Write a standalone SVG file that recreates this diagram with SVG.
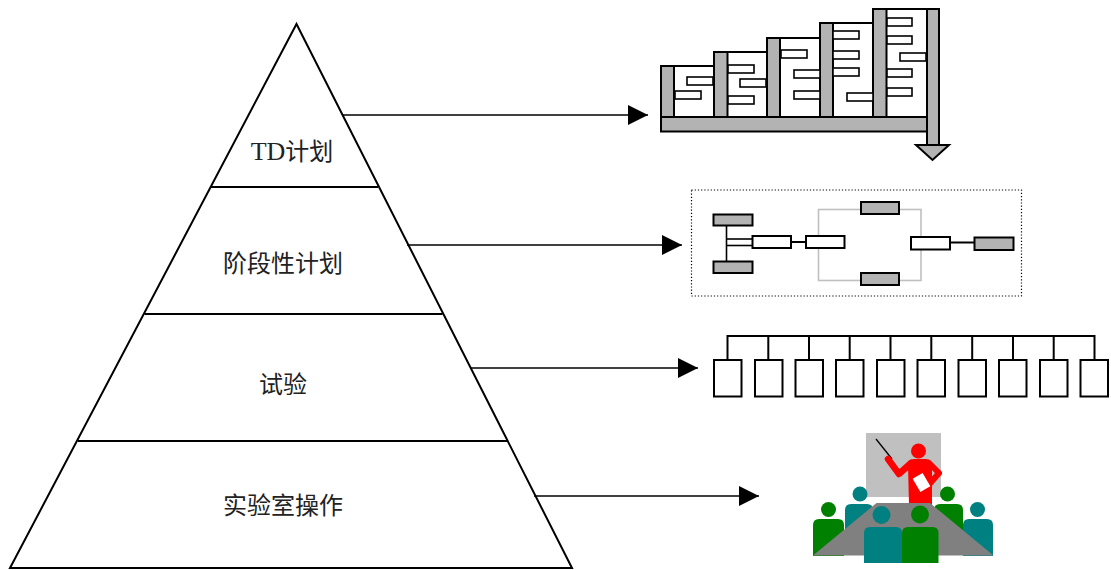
<svg xmlns="http://www.w3.org/2000/svg" width="1111" height="570" viewBox="0 0 1111 570">
  <style>
    .label { font-family: "Liberation Serif", "Noto Sans CJK SC", serif; font-size: 24px; fill: #222; text-anchor: middle; }
    .latin { font-size: 26px; }
    .edge { fill: none; stroke: #000; stroke-width: 2; }
    .conn { fill: none; stroke: #000; stroke-width: 1.6; }
    .gbar { fill: #b3b3b3; stroke: #000; stroke-width: 2; }
    .wcol { fill: #fff; stroke: #000; stroke-width: 2; }
    .task { fill: #fff; stroke: #000; stroke-width: 1.6; }
    .gbox { fill: #b3b3b3; stroke: #000; stroke-width: 2; }
    .wbox { fill: #fff; stroke: #000; stroke-width: 2; }
    .teal { fill: #008080; }
    .green { fill: #008000; }
  </style>
  <defs>
    <marker id="head" markerUnits="userSpaceOnUse" markerWidth="20" markerHeight="20" refX="20" refY="10" orient="auto">
      <path d="M0,0 L20,10 L0,20 Z" fill="#000"/>
    </marker>
  </defs>
  <rect width="1111" height="570" fill="#fff"/>

  <!-- pyramid -->
  <g id="pyramid">
    <path class="edge" d="M296.5,24 L572,568 L10,568 Z"/>
    <line class="edge" x1="211" y1="187" x2="378" y2="187"/>
    <line class="edge" x1="144.5" y1="314" x2="442.5" y2="314"/>
    <line class="edge" x1="78" y1="441" x2="507" y2="441"/>
  </g>
  <g id="layer-td"><text class="label" x="292" y="160"><tspan class="latin">TD</tspan>计划</text></g>
  <g id="layer-stage"><text class="label" x="283" y="272">阶段性计划</text></g>
  <g id="layer-test"><text class="label" x="283" y="393">试验</text></g>
  <g id="layer-lab"><text class="label" x="283" y="514">实验室操作</text></g>

  <!-- connectors -->
  <g id="connectors">
    <line class="conn" x1="343" y1="115" x2="648" y2="115" marker-end="url(#head)"/>
    <line class="conn" x1="407" y1="245" x2="682" y2="245" marker-end="url(#head)"/>
    <line class="conn" x1="470" y1="368" x2="698" y2="368" marker-end="url(#head)"/>
    <line class="conn" x1="534" y1="496" x2="759" y2="496" marker-end="url(#head)"/>
  </g>

  <!-- staircase schedule -->
  <g id="schedule">
    <rect class="wcol" x="661" y="66" width="53" height="51"/>
    <rect class="wcol" x="714" y="52" width="53" height="65"/>
    <rect class="wcol" x="767" y="38" width="53" height="79"/>
    <rect class="wcol" x="820" y="23" width="53" height="94"/>
    <rect class="wcol" x="873" y="9" width="54" height="108"/>
    <rect class="gbar" x="661" y="66" width="13" height="51"/>
    <rect class="gbar" x="714" y="52" width="13.5" height="65"/>
    <rect class="gbar" x="767" y="38" width="13" height="79"/>
    <rect class="gbar" x="820" y="23" width="13" height="94"/>
    <rect class="gbar" x="873" y="9" width="13.5" height="108"/>
    <rect class="task" x="687" y="77" width="26" height="8"/>
    <rect class="task" x="675" y="91" width="26" height="8"/>
    <rect class="task" x="728" y="65" width="26" height="8"/>
    <rect class="task" x="740" y="79" width="26" height="8"/>
    <rect class="task" x="728" y="96" width="26" height="8"/>
    <rect class="task" x="781" y="50" width="26" height="8"/>
    <rect class="task" x="794" y="70" width="26" height="8"/>
    <rect class="task" x="794" y="91" width="26" height="8"/>
    <rect class="task" x="833" y="31" width="26" height="8"/>
    <rect class="task" x="833" y="51" width="26" height="8"/>
    <rect class="task" x="833" y="68" width="26" height="8"/>
    <rect class="task" x="847" y="93" width="26" height="8"/>
    <rect class="task" x="887" y="18" width="25" height="8"/>
    <rect class="task" x="887" y="36" width="25" height="8"/>
    <rect class="task" x="900" y="53" width="26" height="8"/>
    <rect class="task" x="887" y="69" width="25" height="8"/>
    <rect class="task" x="887" y="88" width="25" height="8"/>
    <rect class="gbar" x="661" y="117" width="266" height="14.5"/>
    <rect class="gbar" x="927" y="9" width="12" height="136"/>
    <path class="gbar" d="M916,145 L949,145 L932.5,160 Z"/>
  </g>

  <!-- network plan -->
  <g id="network">
    <rect x="691.5" y="190" width="330" height="106" fill="none" stroke="#000" stroke-width="1.2" stroke-dasharray="1.2 2"/>
    <rect x="818.5" y="209.5" width="102.5" height="71" fill="none" stroke="#c0c0c0" stroke-width="1.6"/>
    <line x1="726.5" y1="225" x2="726.5" y2="262" stroke="#000" stroke-width="1.6"/>
    <line x1="726.5" y1="239" x2="753" y2="239" stroke="#000" stroke-width="1.6"/>
    <line x1="726.5" y1="245.5" x2="753" y2="245.5" stroke="#000" stroke-width="1.6"/>
    <line x1="791" y1="242" x2="806" y2="242" stroke="#000" stroke-width="2"/>
    <line x1="950" y1="242.5" x2="975" y2="242.5" stroke="#000" stroke-width="2"/>
    <rect class="gbox" x="713.5" y="214.5" width="39" height="11"/>
    <rect class="gbox" x="713.5" y="261.5" width="39" height="11.5"/>
    <rect class="wbox" x="752.5" y="236" width="38.5" height="12"/>
    <rect class="wbox" x="806" y="236" width="38.5" height="12"/>
    <rect class="gbox" x="861" y="202" width="38" height="12"/>
    <rect class="gbox" x="861" y="273" width="38" height="12"/>
    <rect class="wbox" x="911" y="237" width="39" height="12.5"/>
    <rect class="gbox" x="974.5" y="237.5" width="39" height="12.5"/>
  </g>

  <!-- breakdown tree -->
  <g id="tree" fill="#fff" stroke="#000" stroke-width="2">
    <path fill="none" d="M727.5,360 V336 H1094.5 V360 M768.3,336 V360 M809,336 V360 M849.7,336 V360 M890.5,336 V360 M931.3,336 V360 M972.2,336 V360 M1013,336 V360 M1053.7,336 V360"/>
    <rect x="714" y="360" width="27.5" height="36.5"/>
    <rect x="755" y="360" width="27.5" height="36.5"/>
    <rect x="795.5" y="360" width="27.5" height="36.5"/>
    <rect x="836" y="360" width="27.5" height="36.5"/>
    <rect x="877" y="360" width="27.5" height="36.5"/>
    <rect x="917.5" y="360" width="27.5" height="36.5"/>
    <rect x="958.5" y="360" width="27.5" height="36.5"/>
    <rect x="999" y="360" width="27.5" height="36.5"/>
    <rect x="1040" y="360" width="27.5" height="36.5"/>
    <rect x="1080.5" y="360" width="27.5" height="36.5"/>
  </g>

  <!-- meeting scene -->
  <g id="meeting">
    <rect x="866" y="433" width="75" height="64" fill="#c0c0c0"/>
    <line x1="876" y1="439" x2="892" y2="459" stroke="#000" stroke-width="1.3"/>
    <g fill="#f00">
      <circle cx="918.5" cy="451" r="7.5"/>
      <path d="M908,466 Q908,459 914,459 H926 Q932,459 932,466 V505 H909 Z"/>
      <polyline points="888,459 899,474 911,463" fill="none" stroke="#f00" stroke-width="6.5" stroke-linejoin="round" stroke-linecap="round"/>
      <polyline points="929,463 939,473 926,488" fill="none" stroke="#f00" stroke-width="6" stroke-linejoin="round" stroke-linecap="round"/>
    </g>
    <rect x="915" y="474" width="13" height="17" fill="#fff" stroke="#f00" stroke-width="1.5" transform="rotate(-30 921.5 482.5)"/>
    <!-- back row -->
    <circle class="teal" cx="860" cy="494" r="7.5"/>
    <path class="teal" d="M845,555 V510 Q845,504 851,504 H867 Q873,504 873,510 V555 Z"/>
    <circle class="green" cx="947.5" cy="494" r="7.5"/>
    <path class="green" d="M934,555 V510 Q934,504 940,504 H957 Q963,504 963,510 V555 Z"/>
    <!-- side seats -->
    <circle class="green" cx="828.5" cy="509.5" r="7.5"/>
    <path class="green" d="M813,556 V525 Q813,519 819,519 H838 Q844,519 844,525 V556 Z"/>
    <circle class="teal" cx="977.5" cy="509.5" r="7.5"/>
    <path class="teal" d="M963,556 V525 Q963,519 969,519 H987 Q993,519 993,525 V556 Z"/>
    <!-- table -->
    <path d="M876.5,503 H930 L993.5,555.5 H813 Z" fill="#808080"/>
    <!-- front row -->
    <circle class="teal" cx="881.5" cy="515" r="9"/>
    <path class="teal" d="M864,563 V533 Q864,527 870,527 H896 Q902,527 902,533 V563 Z"/>
    <circle class="green" cx="920" cy="514.5" r="9"/>
    <path class="green" d="M902,563 V533 Q902,527 908,527 H932.5 Q938.5,527 938.5,533 V563 Z"/>
  </g>
</svg>
